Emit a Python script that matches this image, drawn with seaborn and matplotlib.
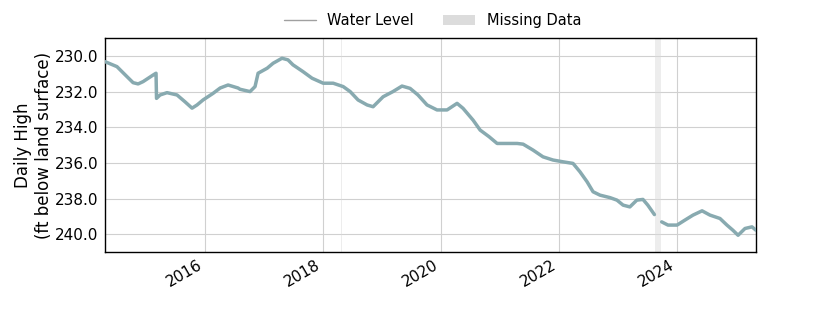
import numpy as np
import pandas as pd
import matplotlib
matplotlib.use("Agg")
import matplotlib.pyplot as plt
import matplotlib.dates as mdates
from matplotlib.lines import Line2D
from matplotlib.patches import Patch
import seaborn as sns

# ---- data ----
dates_a = ["2014-04-21", "2014-07-04", "2014-09-04", "2014-10-12", "2014-11-12",
           "2014-12-13", "2015-02-13", "2015-03-03", "2015-03-06", "2015-03-28",
           "2015-05-10", "2015-07-11", "2015-08-29", "2015-10-12", "2015-11-12",
           "2015-12-19", "2016-02-19", "2016-04-03", "2016-05-22", "2016-07-23",
           "2016-08-04", "2016-10-05", "2016-11-05", "2016-11-24", "2017-01-19",
           "2017-02-25", "2017-04-21", "2017-05-28", "2017-06-28", "2017-08-29",
           "2017-10-24", "2018-01-01", "2018-03-04", "2018-05-05", "2018-06-17",
           "2018-08-05", "2018-09-30", "2018-11-06", "2019-01-07", "2019-03-09",
           "2019-05-04", "2019-06-23", "2019-08-11", "2019-10-06", "2019-12-07",
           "2020-02-07", "2020-04-09", "2020-05-16", "2020-07-17", "2020-08-30",
           "2020-10-24", "2020-12-13", "2021-02-13", "2021-04-16", "2021-05-23",
           "2021-07-23", "2021-09-23", "2021-11-24", "2022-01-25", "2022-03-28",
           "2022-05-10", "2022-06-23", "2022-07-30", "2022-09-11", "2022-11-12",
           "2022-12-25", "2023-02-01", "2023-03-15", "2023-04-27", "2023-06-04",
           "2023-07-04", "2023-08-14"]
level_a = [230.32, 230.6, 231.16, 231.5, 231.57,
           231.44, 231.07, 230.97, 232.38, 232.19,
           232.06, 232.19, 232.57, 232.93, 232.75,
           232.47, 232.1, 231.8, 231.63, 231.8,
           231.87, 232.0, 231.72, 230.97, 230.69,
           230.41, 230.13, 230.22, 230.5, 230.88,
           231.25, 231.53, 231.53, 231.72, 232.0,
           232.47, 232.75, 232.85, 232.29, 232.0,
           231.69, 231.82, 232.19, 232.75, 233.03,
           233.03, 232.66, 232.94, 233.6, 234.16,
           234.53, 234.91, 234.91, 234.91, 234.95,
           235.28, 235.66, 235.84, 235.94, 236.03,
           236.5, 237.06, 237.62, 237.81, 237.95,
           238.09, 238.37, 238.47, 238.09, 238.05,
           238.37, 238.9]
dates_b = ["2023-09-28", "2023-11-06", "2024-01-01", "2024-02-19", "2024-04-09",
           "2024-06-04", "2024-07-23", "2024-09-23", "2024-11-05", "2024-12-12",
           "2025-01-13", "2025-02-25", "2025-04-09", "2025-05-04"]
level_b = [239.31, 239.49, 239.49, 239.21, 238.93,
           238.69, 238.93, 239.12, 239.49, 239.78,
           240.06, 239.68, 239.59, 239.78]
missing_start = ["2018-04-20", "2023-08-17"]
missing_end = ["2018-04-26", "2023-09-24"]

df = pd.DataFrame({
    "date": pd.to_datetime(dates_a + dates_b),
    "level": level_a + level_b,
    "seg": [0] * len(dates_a) + [1] * len(dates_b),
})

line_color = "#88aab0"

sns.set_style("white")
plt.rcParams["font.family"] = ["DejaVu Sans"]
fig = plt.figure(figsize=(8.4, 3.15), dpi=100)
ax = fig.add_axes([0.125, 0.2, 0.775, 0.679])

for s, e in zip(missing_start, missing_end):
    ax.axvspan(pd.Timestamp(s), pd.Timestamp(e), color="#d9d9d9", alpha=0.45,
               lw=0, zorder=1)

sns.lineplot(data=df, x="date", y="level", units="seg", estimator=None,
             color=line_color, lw=2.5, ax=ax, zorder=3, legend=False)

ax.set_xlim(pd.Timestamp("2014-04-21"), pd.Timestamp("2025-05-04"))
ax.set_ylim(241.0, 229.0)
ax.set_yticks([230, 232, 234, 236, 238, 240])
ax.yaxis.set_major_formatter(matplotlib.ticker.FormatStrFormatter("%.1f"))
ax.xaxis.set_major_locator(mdates.YearLocator(2))
ax.xaxis.set_major_formatter(mdates.DateFormatter("%Y"))
ax.grid(True, color="#d0d0d0", lw=0.8, zorder=0)
ax.set_axisbelow(True)
for sp in ax.spines.values():
    sp.set_color("black")
    sp.set_linewidth(1.0)
ax.tick_params(axis="both", labelsize=11, length=0, pad=5, labelcolor="black")
ax.tick_params(axis="x", pad=4)
plt.setp(ax.get_xticklabels(), rotation=30, ha="right")
ax.set_xlabel("")
ax.set_ylabel("Daily High\n(ft below land surface)", fontsize=12, color="black",
              labelpad=1)

handles = [Line2D([0], [0], color="#a0a0a0", lw=1.0),
           Patch(facecolor="#dcdcdc", edgecolor="none")]
fig.legend(handles, ["Water Level", "Missing Data"], loc="upper center",
           bbox_to_anchor=(0.515, 1.0), ncol=2, frameon=False, fontsize=10.5,
           handlelength=2.2, columnspacing=2.0, labelcolor="black")

fig.savefig("out.png", dpi=100)
